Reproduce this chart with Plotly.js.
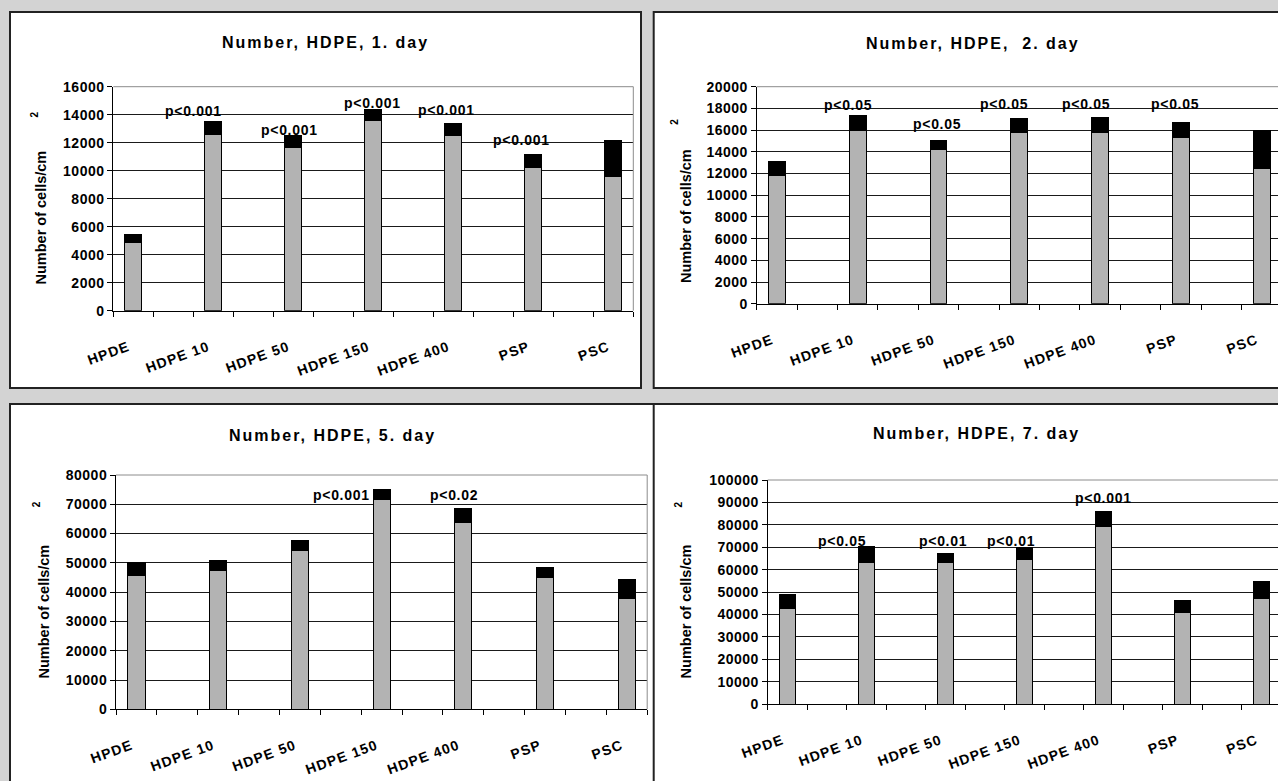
<!DOCTYPE html>
<html>
<head>
<meta charset="utf-8">
<script src="https://cdn.plot.ly/plotly-3.0.1.min.js"></script>
<style>
  html, body { margin: 0; padding: 0; overflow: hidden; background: #d3d3d3; }
  #chart { width: 1300px; height: 800px; }
  .xaxislayer-above text { letter-spacing: 1.2px; }
  .yaxislayer-above text { letter-spacing: 0.5px; }
</style>
</head>
<body>
<div id="chart"></div>
<script>
// ---------------- DATA ----------------
const categories = ['HPDE', 'HDPE 10', 'HDPE 50', 'HDPE 150', 'HDPE 400', 'PSP', 'PSC'];

// day 1
const day1Mean = [4850, 12600, 11690, 13570, 12500, 10240, 9600];
const day1Sd   = [610, 930, 860, 820, 890, 930, 2590];
const day1P    = ['', 'p<0.001', 'p<0.001', 'p<0.001', 'p<0.001', 'p<0.001', ''];
const day1PY   = [null, 14290, 12900, 14860, 14350, 12190, null];

// day 2
const day2Mean = [11800, 16000, 14170, 15800, 15790, 15300, 12480];
const day2Sd   = [1290, 1360, 830, 1290, 1350, 1420, 3470];
const day2P    = ['', 'p<0.05', 'p<0.05', 'p<0.05', 'p<0.05', 'p<0.05', ''];
const day2PY   = [null, 18300, 16600, 18400, 18400, 18450, null];

// day 5
const day5Mean = [45600, 47300, 54200, 71800, 63700, 44950, 37800];
const day5Sd   = [4600, 3600, 3500, 3300, 4900, 3550, 6400];
const day5P    = ['', '', '', 'p<0.001', 'p<0.02', '', ''];
const day5PY   = [null, null, null, 73100, 73100, null, null];

// day 7
const day7Mean = [42700, 63100, 63100, 64300, 79200, 40900, 47000];
const day7Sd   = [6400, 7400, 3900, 5500, 6700, 5200, 7500];
const day7P    = ['', 'p<0.05', 'p<0.01', 'p<0.01', 'p<0.001', '', ''];
const day7PY   = [null, 72900, 72900, 72900, 91800, null, null];

const titles = ['Number, HDPE, 1. day', 'Number, HDPE,  2. day', 'Number, HDPE, 5. day', 'Number, HDPE, 7. day'];
const yTitle = 'Number of cells/cm';
const yMax   = [16000, 20000, 80000, 100000];
const yStep  = [2000, 2000, 10000, 10000];

// ---------------- LAYOUT GEOMETRY (pixels) ----------------
const W = 1300, H = 800;
const fx = p => p / W, fy = p => 1 - p / H;
const SANS = "'Liberation Sans', Arial, sans-serif";

const panels = [
  {mean: day1Mean, sd: day1Sd, p: day1P, py: day1PY, pShift: [0, -20, -4, -1, -7, -12, 0],
   box: [10, 12, 641, 388], plot: [113.3, 86.7, 633.3, 310.7],
   title: [325, 42.5], ytitle: [41, 217.5], sup: [34, 114.5]},
  {mean: day2Mean, sd: day2Sd, p: day2P, py: day2PY, pShift: [0, -10, -2, -15, -14, -6, 0],
   box: [653.7, 12, 1320, 388], plot: [756.7, 86.7, 1281.9, 303.7],
   title: [972.6, 43.3], ytitle: [686, 216], sup: [675, 121.7]},
  {mean: day5Mean, sd: day5Sd, p: day5P, py: day5PY, pShift: [0, 0, 0, -40, -9, 0, 0],
   box: [10, 404, 700, 830], plot: [116, 475, 647.2, 709.3],
   title: [332.5, 435.7], ytitle: [43, 611.5], sup: [36, 504.3]},
  {mean: day7Mean, sd: day7Sd, p: day7P, py: day7PY, pShift: [0, -24, -2.5, -13.5, 0.5, 0, 0],
   box: [653.7, 404, 1320, 830], plot: [767.7, 480, 1281.2, 704],
   title: [976.7, 433.3], ytitle: [685.7, 611.7], sup: [677.5, 505]}
];

// category axis with blank slots between labelled groups
const axisCats = [];
categories.forEach((c, i) => {
  axisCats.push(c);
  if (i < categories.length - 1) axisCats.push(' '.repeat(i + 1));
});

const traces = [];
const layout = {
  width: W, height: H, autosize: false,
  margin: {l: 0, r: 0, t: 0, b: 0, pad: 0},
  paper_bgcolor: '#d3d3d3', plot_bgcolor: '#ffffff',
  barmode: 'stack', showlegend: false,
  shapes: [], annotations: []
};

panels.forEach((pn, k) => {
  const n = k + 1;
  const xa = 'x' + (n > 1 ? n : ''), ya = 'y' + (n > 1 ? n : '');
  const xKey = 'xaxis' + (n > 1 ? n : ''), yKey = 'yaxis' + (n > 1 ? n : '');

  traces.push({type: 'bar', x: categories, y: pn.mean, width: 0.42, xaxis: xa, yaxis: ya,
    marker: {color: '#b3b3b3', line: {color: '#000', width: 1}}, hoverinfo: 'skip'});
  traces.push({type: 'bar', x: categories, y: pn.sd, width: 0.42, xaxis: xa, yaxis: ya,
    marker: {color: '#000', line: {color: '#000', width: 1}}, hoverinfo: 'skip'});

  layout[xKey] = {
    domain: [fx(pn.plot[0]), fx(pn.plot[2])], anchor: ya,
    type: 'category', categoryorder: 'array', categoryarray: axisCats,
    range: [-0.5, axisCats.length - 0.5], tickson: 'boundaries',
    ticks: 'outside', ticklen: 5, tickwidth: 1, tickcolor: '#000',
    showline: true, linecolor: '#000', linewidth: 1, showgrid: false, zeroline: false,
    tickangle: -20, ticklabelstandoff: 22, ticklabelshift: -5,
    tickfont: {family: SANS, size: 14, color: '#000', weight: 'bold'}, fixedrange: true
  };
  layout[yKey] = {
    domain: [fy(pn.plot[3]), fy(pn.plot[1])], anchor: xa,
    range: [0, yMax[k]], tick0: 0, dtick: yStep[k], tickformat: 'd',
    ticks: 'outside', ticklen: 5, tickwidth: 1, tickcolor: '#000',
    showline: true, linecolor: '#000', linewidth: 1,
    showgrid: true, gridcolor: '#1a1a1a', gridwidth: 1, zeroline: false,
    tickfont: {family: SANS, size: 14, color: '#000', weight: 'bold'}, fixedrange: true
  };

  // panel background + border
  layout.shapes.push({type: 'rect', xref: 'paper', yref: 'paper', layer: 'below',
    x0: fx(pn.box[0]), x1: fx(pn.box[2]), y0: fy(pn.box[3]), y1: fy(pn.box[1]),
    fillcolor: '#ffffff', line: {color: '#222', width: 2}});
  // grey plot-area frame (top and right)
  layout.shapes.push({type: 'line', xref: xa + ' domain', yref: ya + ' domain',
    x0: 0, x1: 1, y0: 1, y1: 1, line: {color: '#8c8c8c', width: 1}});
  layout.shapes.push({type: 'line', xref: xa + ' domain', yref: ya + ' domain',
    x0: 1, x1: 1, y0: 0, y1: 1, line: {color: '#8c8c8c', width: 1}});

  // titles
  layout.annotations.push({xref: 'paper', yref: 'paper', x: fx(pn.title[0]), y: fy(pn.title[1]),
    xanchor: 'center', yanchor: 'middle', showarrow: false,
    text: '<span style="letter-spacing:2px">' + titles[k] + '</span>',
    font: {family: SANS, size: 16, color: '#000', weight: 'bold'}});
  layout.annotations.push({xref: 'paper', yref: 'paper', x: fx(pn.ytitle[0]), y: fy(pn.ytitle[1]),
    xanchor: 'center', yanchor: 'middle', showarrow: false, textangle: -90,
    text: yTitle, font: {family: SANS, size: 14.5, color: '#000', weight: 'bold'}});
  layout.annotations.push({xref: 'paper', yref: 'paper', x: fx(pn.sup[0]), y: fy(pn.sup[1]),
    xanchor: 'center', yanchor: 'middle', showarrow: false, textangle: -90,
    text: '2', font: {family: SANS, size: 10, color: '#000', weight: 'bold'}});

  // significance labels
  pn.p.forEach((t, j) => {
    if (!t) return;
    layout.annotations.push({xref: xa, yref: ya, x: categories[j], y: pn.py[j],
      xanchor: 'center', yanchor: 'middle', showarrow: false, xshift: pn.pShift[j],
      text: '<span style="letter-spacing:0.7px">' + t + '</span>',
      font: {family: SANS, size: 14, color: '#000', weight: 'bold'}});
  });
});

Plotly.newPlot('chart', traces, layout, {displayModeBar: false, staticPlot: true});
</script>
</body>
</html>
